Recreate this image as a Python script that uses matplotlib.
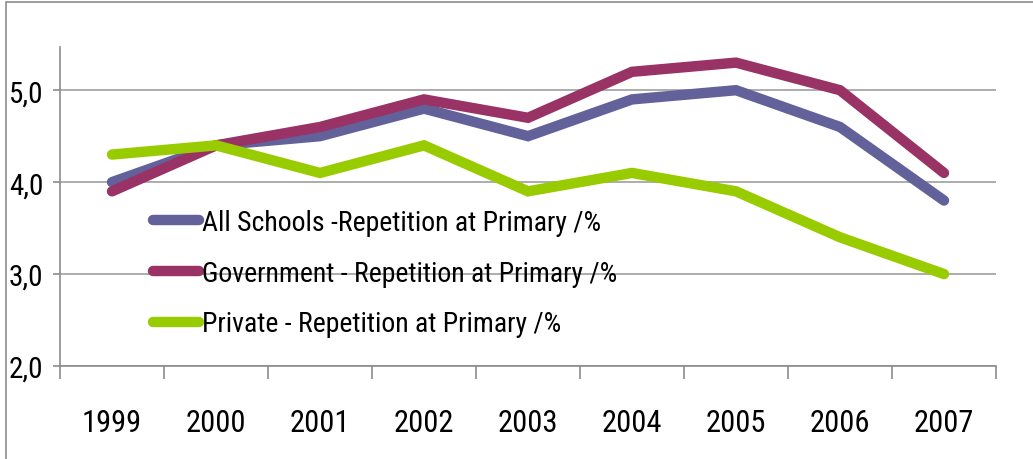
import matplotlib.pyplot as plt
from matplotlib.patches import Rectangle
import numpy as np

# Datos
anios = ['1999', '2000', '2001', '2002', '2003', '2004', '2005', '2006', '2007']
todas = [4.0, 4.4, 4.5, 4.8, 4.5, 4.9, 5.0, 4.6, 3.8]
gobierno = [3.9, 4.4, 4.6, 4.9, 4.7, 5.2, 5.3, 5.0, 4.1]
privado = [4.3, 4.4, 4.1, 4.4, 3.9, 4.1, 3.9, 3.4, 3.0]
nombres = ['All Schools -Repetition at Primary /%',
           'Government - Repetition at Primary /%',
           'Private - Repetition at Primary /%']
colores = ['#62619A', '#993366', '#99CC00']

plt.rcParams['font.family'] = ['Roboto Condensed', 'DejaVu Sans']

W, H = 1033, 460
fig = plt.figure(figsize=(W / 100, H / 100), dpi=100)
ax = fig.add_axes([60 / W, 1 - 367 / H, 936 / W, 319 / H])

# Marco exterior
fig.patches.append(Rectangle((6 / W, -0.1), 1.2, 1.1 - 3 / H, transform=fig.transFigure,
                             fill=False, edgecolor='#8C8C8C', linewidth=1.2))

x = np.arange(len(anios))
for serie, nombre, color in zip([todas, gobierno, privado], nombres, colores):
    ax.plot(x, serie, color=color, linewidth=7.5, solid_capstyle='round',
            solid_joinstyle='miter', label=nombre)

ax.set_xlim(-0.5, len(anios) - 0.5)
ax.set_ylim(2.0, 5.47)
ax.set_yticks([2.0, 3.0, 4.0, 5.0])
ax.set_yticklabels(['2,0', '3,0', '4,0', '5,0'], fontsize=21)
ax.yaxis.grid(True, color='#A6A6A6', linewidth=1.3)
ax.set_axisbelow(True)

# Marcas del eje x entre categorías, etiquetas centradas
ax.set_xticks(np.arange(len(anios) + 1) - 0.5)
ax.set_xticklabels([])
ax.set_xticks(x, minor=True)
ax.set_xticklabels(anios, minor=True, fontsize=22)
ax.tick_params(axis='x', which='major', length=9, color='#8C8C8C', width=1.2)
ax.tick_params(axis='x', which='minor', length=0, pad=30)
ax.tick_params(axis='y', length=5, color='#8C8C8C', width=1.2, pad=7)

for lado in ['top', 'right']:
    ax.spines[lado].set_visible(False)
for lado in ['left', 'bottom']:
    ax.spines[lado].set_color('#8C8C8C')
    ax.spines[lado].set_linewidth(1.2)

ax.legend(loc='upper left', bbox_to_anchor=(153 / W, 1 - 210 / H),
          bbox_transform=fig.transFigure, frameon=False, fontsize=20,
          handlelength=1.65, handletextpad=0.1, labelspacing=0.85,
          borderaxespad=0, borderpad=0)

fig.savefig('out.png', dpi=100)
